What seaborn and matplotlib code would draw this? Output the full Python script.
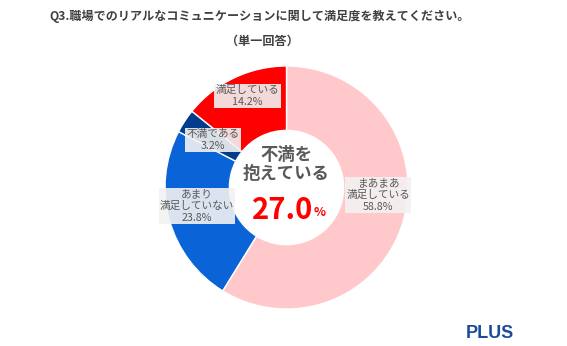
import matplotlib
matplotlib.use("Agg")
import matplotlib.pyplot as plt
import seaborn as sns

sns.set_theme(style="white")
plt.rcParams['font.family'] = ['Noto Sans CJK JP', 'DejaVu Sans']

# Answers, in clockwise order from 12 o'clock
categories = ["まあまあ\n満足している", "あまり\n満足していない", "不満である", "満足している"]
shares = [58.8, 23.8, 3.2, 14.2]
colors = sns.color_palette(["#FFC9CB", "#0A64D8", "#023D8C", "#FF0000"])
dissatisfied_total = 27.0

title = "Q3.職場でのリアルなコミュニケーションに関して満足度を教えてください。"
subtitle = "（単一回答）"

W, H = 567, 346
fig = plt.figure(figsize=(W / 100, H / 100), dpi=100)
ax = fig.add_axes([0, 0, 1, 1])

cx, cy = 286.5, H - 187.5
R = 121.5
ring = 0.53

ax.pie(shares, colors=colors, startangle=90, counterclock=False,
       center=(cx, cy), radius=R, frame=True,
       wedgeprops=dict(width=R * ring, edgecolor="white", linewidth=1.0))
ax.set_xlim(0, W)
ax.set_ylim(0, H)
ax.set_aspect("equal")
ax.axis("off")

label_pos = [(378, 195), (197, 206), (213, 140), (247.5, 96)]
box = dict(boxstyle="square,pad=0.12", facecolor="#F2F2F2", edgecolor="none", alpha=0.9)
for cat, val, (px, py) in zip(categories, shares, label_pos):
    ax.text(px, H - py, f"{cat}\n{val:.1f}%", ha="center", va="center",
            fontsize=7.7, color="#595959", linespacing=1.2, bbox=box)

fig.text(260 / W, 1 - 16 / H, title, ha="center", va="center",
         fontsize=8.7, color="#404040", fontweight="bold")
fig.text(262 / W, 1 - 41 / H, subtitle, ha="center", va="center",
         fontsize=8.7, color="#404040", fontweight="bold")

ax.text(cx, H - 155, "不満を", ha="center", va="center",
        fontsize=12.5, color="#595959", fontweight="bold")
ax.text(cx, H - 174, "抱えている", ha="center", va="center",
        fontsize=12.5, color="#595959", fontweight="bold")
ax.text(cx + 27, H - 210, f"{dissatisfied_total:.1f}", ha="right", va="center",
        fontsize=21, color="#FF0000", fontweight="bold")
ax.text(cx + 27, H - 213, "%", ha="left", va="center",
        fontsize=9, color="#FF0000", fontweight="bold")

fig.text(490 / W, 1 - 334 / H, "PLUS", ha="center", va="center",
         fontsize=13, color="#1B4C9B", fontweight="heavy",
         family=["Liberation Sans", "DejaVu Sans"])

fig.savefig("out.png", dpi=100, facecolor="white")
